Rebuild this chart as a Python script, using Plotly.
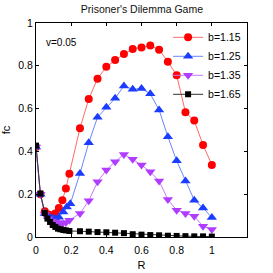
import plotly.graph_objects as go

R_high = [0.25, 0.3, 0.35, 0.4, 0.45, 0.5, 0.55, 0.6, 0.65, 0.7, 0.75, 0.8, 0.85, 0.9, 0.95, 1.0]

R_red = [0.0, 0.025, 0.05, 0.07, 0.09, 0.11, 0.13, 0.15, 0.17, 0.19] + R_high
fc_red = [0.42, 0.20, 0.12, 0.105, 0.10, 0.11, 0.135, 0.172, 0.227, 0.295,
          0.508, 0.645, 0.74, 0.795, 0.827, 0.855, 0.878, 0.886, 0.895, 0.875,
          0.819, 0.756, 0.583, 0.544, 0.43, 0.337]

R_blue = [0.0, 0.025, 0.05, 0.07, 0.09, 0.11, 0.13, 0.155, 0.175, 0.195] + R_high
fc_blue = [0.42, 0.20, 0.11, 0.095, 0.09, 0.085, 0.092, 0.117, 0.14, 0.155,
           0.297, 0.44, 0.56, 0.606, 0.648, 0.706, 0.69, 0.694, 0.669, 0.594,
           0.469, 0.356, 0.262, 0.172, 0.136, 0.091]

R_purple = [0.0, 0.025, 0.05, 0.07, 0.09, 0.11, 0.13, 0.15, 0.17, 0.19] + R_high
fc_purple = [0.42, 0.20, 0.105, 0.085, 0.075, 0.07, 0.065, 0.063, 0.068, 0.078,
             0.11, 0.169, 0.258, 0.313, 0.352, 0.386, 0.363, 0.336, 0.305, 0.262,
             0.175, 0.125, 0.11, 0.097, 0.05, 0.035]

R_black = [0.0, 0.025, 0.05, 0.065, 0.08, 0.095, 0.11, 0.125, 0.14, 0.155, 0.17, 0.19] + R_high
fc_black = [0.427, 0.203, 0.112, 0.086, 0.07, 0.056, 0.047, 0.039, 0.036, 0.033, 0.031, 0.028,
            0.027, 0.025, 0.023, 0.022, 0.02, 0.018, 0.013, 0.011, 0.009, 0.008,
            0.006, 0.005, 0.004, 0.003, 0.003, 0.002]

series = [
    ("b=1.15", R_red, fc_red, "#ff0000", "#ff6a6a", "circle", 8),
    ("b=1.25", R_blue, fc_blue, "#1a3cff", "#6a86ff", "triangle-up", 9),
    ("b=1.35", R_purple, fc_purple, "#b03cff", "#c979ff", "triangle-down", 9),
    ("b=1.65", R_black, fc_black, "#000000", "#333333", "square", 6),
]

xticks = [0, 0.2, 0.4, 0.6, 0.8, 1.0]
xticklabels = ["0", "0.2", "0.4", "0.6", "0.8", "1"]
yticks = [0, 0.2, 0.4, 0.6, 0.8, 1.0]
yticklabels = ["0", "0.2", "0.4", "0.6", "0.8", "1"]

FONT = "Liberation Sans, Arial, sans-serif"

fig = go.Figure()
for name, x, y, mc, lc, sym, sz in series:
    fig.add_trace(go.Scatter(
        x=x, y=y, name=name, mode="lines+markers",
        line=dict(color=lc, width=1),
        marker=dict(symbol=sym, size=sz, color=mc, line=dict(width=0)),
    ))

fig.update_layout(
    width=273, height=273,
    margin=dict(l=36, r=26, t=23, b=36, autoexpand=False),
    paper_bgcolor="white", plot_bgcolor="white",
    font=dict(family=FONT, size=10, color="black"),
    title=dict(text="Prisoner's Dilemma Game", x=0.52, xanchor="center",
               y=0.966, yanchor="middle", font=dict(family=FONT, size=10.5, color="#111111")),
    showlegend=True,
    legend=dict(x=0.626, xanchor="left", y=0.80, yanchor="middle",
                bgcolor="rgba(0,0,0,0)", borderwidth=0,
                font=dict(family=FONT, size=10.5), itemwidth=30,
                tracegroupgap=0),
    annotations=[dict(text="v=0.05", x=0.038, y=0.911, xref="paper", yref="paper",
                      xanchor="left", yanchor="middle", showarrow=False,
                      font=dict(family=FONT, size=10))],
)
fig.update_xaxes(range=[0, 1.2], tickvals=xticks, ticktext=xticklabels,
                 ticks="inside", ticklen=3, tickcolor="black", automargin=False,
                 showline=True, linecolor="black", linewidth=1, mirror="ticks",
                 showgrid=False, zeroline=False, ticklabelstandoff=3,
                 title=dict(text="R", standoff=6, font=dict(family=FONT, size=11)),
                 tickfont=dict(family=FONT, size=10.5))
fig.update_yaxes(range=[0, 1], tickvals=yticks, ticktext=yticklabels,
                 ticks="inside", ticklen=3, tickcolor="black", automargin=False,
                 showline=True, linecolor="black", linewidth=1, mirror="ticks",
                 showgrid=False, zeroline=False,
                 title=dict(text="fc", standoff=5, font=dict(family=FONT, size=11)),
                 tickfont=dict(family=FONT, size=10.5))

fig.write_html("out.html", config={"displayModeBar": False},
               post_script="document.body.style.margin='0';")
